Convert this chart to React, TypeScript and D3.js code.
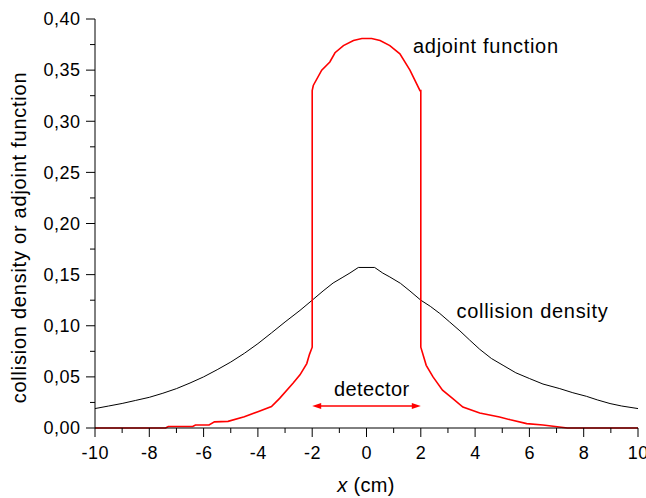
import React from "react";
import * as d3 from "d3";

const xTicks = [-10, -8, -6, -4, -2, 0, 2, 4, 6, 8, 10];
const xMinorTicks = [-9, -7, -5, -3, -1, 1, 3, 5, 7, 9];
const yTicks = [0, 0.05, 0.1, 0.15, 0.2, 0.25, 0.3, 0.35, 0.4];
const yMinorTicks = [0.025, 0.075, 0.125, 0.175, 0.225, 0.275, 0.325, 0.375];

const densityX = [-10, -9.5, -9, -8.5, -8, -7.5, -7, -6.5, -6, -5.5, -5, -4.5, -4, -3.5, -3, -2.45, -2, -1.6, -1.23, -0.9, -0.61, -0.3, 0.3, 0.6, 0.86, 1.25, 1.6, 2, 2.35, 2.7, 3.05, 3.44, 3.8, 4.17, 4.6, 5.03, 5.5, 6.01, 6.5, 7.12, 7.6, 8.1, 8.5, 8.97, 9.4, 10];
const densityY = [0.019, 0.0215, 0.024, 0.027, 0.030, 0.034, 0.0385, 0.044, 0.050, 0.057, 0.0645, 0.073, 0.0825, 0.093, 0.1037, 0.115, 0.125, 0.134, 0.1418, 0.147, 0.1516, 0.157, 0.157, 0.1515, 0.1477, 0.1415, 0.134, 0.125, 0.119, 0.112, 0.104, 0.095, 0.086, 0.077, 0.068, 0.0613, 0.054, 0.0483, 0.043, 0.0385, 0.0345, 0.031, 0.0275, 0.0239, 0.0215, 0.019];

const adjointX = [-10, -7.4, -7.3, -6.4, -6.3, -5.8, -5.6, -5.1, -4.5, -4, -3.5, -3.2, -2.7, -2.45, -2.2, -2.1, -2, -2, -1.96, -1.65, -1.35, -1.16, -0.85, -0.48, -0.17, 0.19, 0.5, 0.86, 1.23, 1.6, 1.97, 2, 2, 2.2, 2.45, 2.8, 3.18, 3.55, 4.17, 4.9, 5.3, 5.9, 6.5, 7.1, 7.4, 10];
const adjointY = [0, 0, 0.0015, 0.0015, 0.003, 0.003, 0.006, 0.0065, 0.011, 0.016, 0.021, 0.029, 0.044, 0.052, 0.063, 0.072, 0.079, 0.33, 0.335, 0.35, 0.358, 0.367, 0.374, 0.379, 0.381, 0.381, 0.379, 0.374, 0.366, 0.35, 0.33, 0.33, 0.079, 0.0613, 0.05, 0.037, 0.0288, 0.0205, 0.0147, 0.0108, 0.008, 0.0043, 0.003, 0.001, 0, 0];

const detectorRange = [-2, 2];

const fmt = (v: number) => v.toFixed(2).replace(".", ",");

export default function App() {
  const x = d3.scaleLinear().domain([-10, 10]).range([95, 638]);
  const y = d3.scaleLinear().domain([0, 0.4]).range([428, 19]);
  const line = d3
    .line<[number, number]>()
    .x((d) => x(d[0]))
    .y((d) => y(d[1]));
  const density = densityX.map((v, i) => [v, densityY[i]] as [number, number]);
  const adjoint = adjointX.map((v, i) => [v, adjointY[i]] as [number, number]);
  const font = "'Liberation Sans', Arial, sans-serif";
  const ay = 406;
  const ax0 = x(detectorRange[0]);
  const ax1 = x(detectorRange[1]);

  return (
    <svg
      width={646}
      height={498}
      style={{ position: "absolute", left: 0, top: 0, background: "#fff" }}
      fontFamily={font}
    >
      <rect width={646} height={498} fill="#fff" />
      <path d={line(density) || ""} fill="none" stroke="#000" strokeWidth={1} />
      <path d={line(adjoint) || ""} fill="none" stroke="#ff0000" strokeWidth={1.6} />
      <line x1={95} x2={95} y1={y(0.4)} y2={y(0)} stroke="#000" strokeWidth={1} />
      <line x1={95} x2={x(10)} y1={428} y2={428} stroke="#000" strokeWidth={1} />
      {yTicks.map((t) => (
        <g key={"y" + t}>
          <line x1={86} x2={95} y1={y(t)} y2={y(t)} stroke="#000" />
          <text x={80.5} y={y(t) + 6.3} textAnchor="end" fontSize={18} letterSpacing={0.5} fill="#000">
            {fmt(t)}
          </text>
        </g>
      ))}
      {yMinorTicks.map((t) => (
        <line key={"ym" + t} x1={90} x2={95} y1={y(t)} y2={y(t)} stroke="#000" />
      ))}
      {xTicks.map((t) => (
        <g key={"x" + t}>
          <line x1={x(t)} x2={x(t)} y1={428} y2={437} stroke="#000" />
          <text x={x(t) + 0.3} y={458.5} textAnchor="middle" fontSize={18} letterSpacing={0.5} fill="#000">
            {t}
          </text>
        </g>
      ))}
      {xMinorTicks.map((t) => (
        <line key={"xm" + t} x1={x(t)} x2={x(t)} y1={428} y2={433} stroke="#000" />
      ))}
      <text x={366} y={492} textAnchor="middle" fontSize={20} letterSpacing={0.3} fill="#000">
        <tspan fontStyle="italic">x</tspan> (cm)
      </text>
      <text
        transform="translate(26,237.5) rotate(-90)"
        textAnchor="middle"
        fontSize={20}
        letterSpacing={0.76}
        fill="#000"
      >
        collision density or adjoint function
      </text>
      <text x={413} y={52.5} fontSize={20} letterSpacing={0.7} fill="#000">
        adjoint function
      </text>
      <text x={456.5} y={317.5} fontSize={20} letterSpacing={0.7} fill="#000">
        collision density
      </text>
      <text x={334} y={396} fontSize={20} letterSpacing={0.4} fill="#000">
        detector
      </text>
      <line x1={ax0 + 6} x2={ax1 - 6} y1={ay} y2={ay} stroke="#ff0000" strokeWidth={1.4} />
      <path d={`M${ax0},${ay} L${ax0 + 9},${ay - 3} L${ax0 + 9},${ay + 3} Z`} fill="#ff0000" />
      <path d={`M${ax1},${ay} L${ax1 - 9},${ay - 3} L${ax1 - 9},${ay + 3} Z`} fill="#ff0000" />
    </svg>
  );
}
